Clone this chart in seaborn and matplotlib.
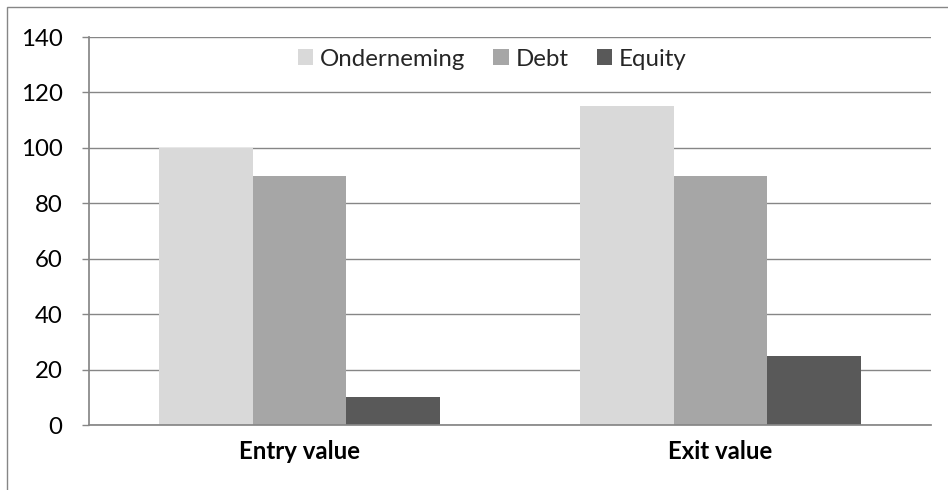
import matplotlib
matplotlib.use("Agg")
import matplotlib.pyplot as plt
import seaborn as sns
import pandas as pd
from matplotlib.patches import Rectangle

categories = ["Entry value", "Exit value"]
series = ["Onderneming", "Debt", "Equity"]
onderneming = [100, 115]
debt = [90, 90]
equity = [10, 25]
yticks = [0, 20, 40, 60, 80, 100, 120, 140]

df = pd.DataFrame({
    "cat": categories * 3,
    "series": [s for s in series for _ in categories],
    "value": onderneming + debt + equity,
})

sns.set_theme(style="white")
plt.rcParams["font.family"] = ["Lato", "DejaVu Sans"]

fig = plt.figure(figsize=(9.48, 4.9), dpi=100)
ax = fig.add_axes([89/948, 1-425/490, (931-89)/948, (425-37)/490])

palette = {"Onderneming": "#D9D9D9", "Debt": "#A6A6A6", "Equity": "#595959"}
sns.barplot(data=df, x="cat", y="value", hue="series", order=categories,
            hue_order=series, palette=palette, width=0.667, gap=0,
            saturation=1, ax=ax, legend=True, linewidth=0, edgecolor="none")

FS = 17.3
ax.set_xlim(-0.5, 1.5)
ax.set_ylim(0, 140)
ax.set_yticks(yticks)
ax.set_yticklabels([str(v) for v in yticks], fontsize=FS, color="black")
ax.set_xticks(range(len(categories)))
ax.set_xticklabels(categories, fontsize=FS, fontweight="bold", color="black")
ax.set_xlabel("")
ax.set_ylabel("")
ax.yaxis.grid(True, color="#868686", linewidth=1)
ax.set_axisbelow(True)
for s in ["top", "right"]:
    ax.spines[s].set_visible(False)
ax.spines["left"].set_color("#868686")
ax.spines["bottom"].set_color("#868686")
ax.tick_params(axis="y", left=True, length=5, width=1, color="#868686", pad=14)
ax.tick_params(axis="x", bottom=False, pad=5)

handles, labels = ax.get_legend_handles_labels()
ax.legend(handles, labels, loc="center", bbox_to_anchor=(0.479, 0.943),
          ncol=3, frameon=False, fontsize=FS, handlelength=0.64, handleheight=0.64,
          handletextpad=0.3, columnspacing=1.15, borderpad=0, borderaxespad=0)

fig.add_artist(Rectangle((7/948, -0.1), 1.2, 1-7/490+0.1, transform=fig.transFigure,
                         fill=False, edgecolor="#868686", linewidth=1))

fig.savefig("out.png", dpi=100)
